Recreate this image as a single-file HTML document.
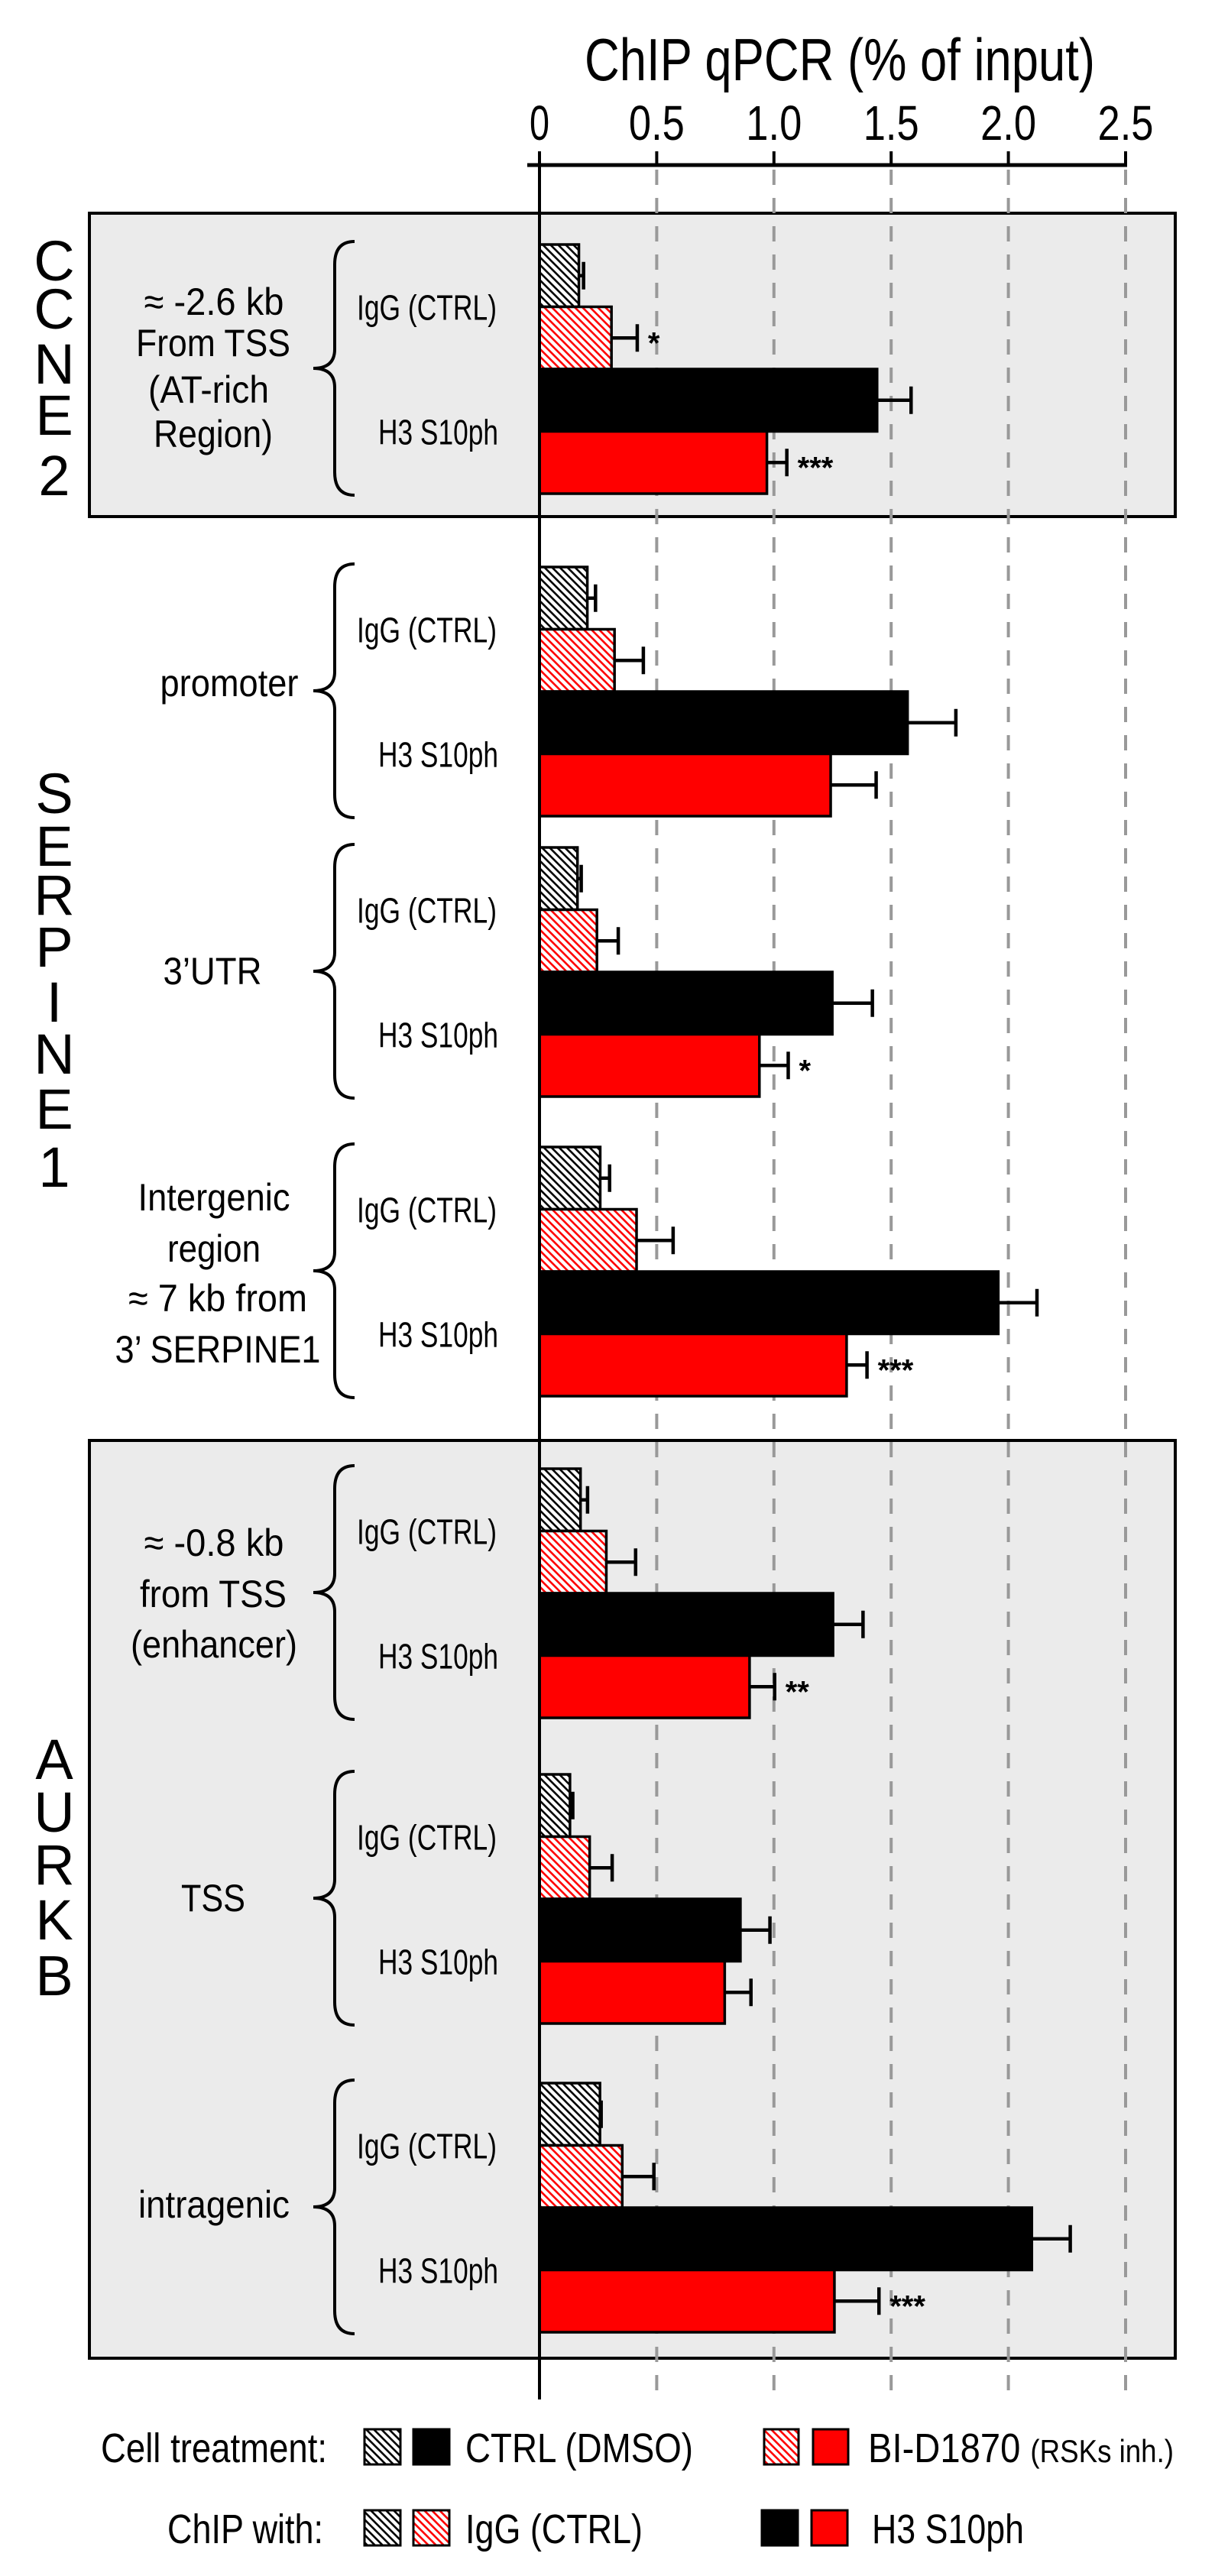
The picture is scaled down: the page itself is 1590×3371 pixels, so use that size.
<!DOCTYPE html>
<html><head><meta charset="utf-8">
<style>
html,body{margin:0;padding:0;background:#fff;}
svg{display:block;}
text{font-family:"Liberation Sans",sans-serif;fill:#000;}
</style></head>
<body>
<svg id="chart" width="1590" height="3371" viewBox="0 0 1590 3371" xmlns="http://www.w3.org/2000/svg">
<defs>
<pattern id="hatchK" patternUnits="userSpaceOnUse" width="10" height="10">
<rect width="10" height="10" fill="#fff"/>
<path d="M-5,5 L5,15 M0,0 L10,10 M5,-5 L15,5" stroke="#000" stroke-width="2.6"/>
</pattern>
<pattern id="hatchR" patternUnits="userSpaceOnUse" width="10" height="10">
<rect width="10" height="10" fill="#fff"/>
<path d="M-5,5 L5,15 M0,0 L10,10 M5,-5 L15,5" stroke="#f00" stroke-width="2.6"/>
</pattern>
</defs>
<rect x="117" y="279" width="1421" height="397" fill="#ebebeb" stroke="#000" stroke-width="4"/>
<rect x="117" y="1885" width="1421" height="1201" fill="#ebebeb" stroke="#000" stroke-width="4"/>
<g id="grid"></g>
<g id="axis"></g>
<text x="1099" y="105" font-size="78" text-anchor="middle" textLength="668" lengthAdjust="spacingAndGlyphs">ChIP qPCR (% of input)</text>
<g id="bars"></g>
<g id="labels"></g>
<g font-size="74" text-anchor="middle">
<text x="71"><tspan x="71" y="367">C</tspan><tspan x="71" y="430">C</tspan><tspan x="71" y="502">N</tspan><tspan x="71" y="569">E</tspan><tspan x="71" y="648">2</tspan></text>
<text><tspan x="71" y="1064">S</tspan><tspan x="71" y="1133">E</tspan><tspan x="71" y="1197">R</tspan><tspan x="71" y="1265">P</tspan><tspan x="71" y="1337">I</tspan><tspan x="71" y="1405">N</tspan><tspan x="71" y="1477">E</tspan><tspan x="71" y="1553">1</tspan></text>
<text><tspan x="71" y="2328">A</tspan><tspan x="71" y="2397">U</tspan><tspan x="71" y="2466">R</tspan><tspan x="71" y="2538">K</tspan><tspan x="71" y="2611">B</tspan></text>
</g>
<g font-size="50" text-anchor="middle">
<text x="280" y="412" textLength="183" lengthAdjust="spacingAndGlyphs">≈ -2.6 kb</text>
<text x="279" y="466" textLength="202" lengthAdjust="spacingAndGlyphs">From TSS</text>
<text x="273" y="527" textLength="158" lengthAdjust="spacingAndGlyphs">(AT-rich</text>
<text x="279" y="585" textLength="156" lengthAdjust="spacingAndGlyphs">Region)</text>
<text x="300" y="911" textLength="181" lengthAdjust="spacingAndGlyphs">promoter</text>
<text x="278" y="1288" textLength="129" lengthAdjust="spacingAndGlyphs">3’UTR</text>
<text x="280" y="1584" textLength="199" lengthAdjust="spacingAndGlyphs">Intergenic</text>
<text x="280" y="1651" textLength="122" lengthAdjust="spacingAndGlyphs">region</text>
<text x="285" y="1716" textLength="234" lengthAdjust="spacingAndGlyphs">≈ 7 kb from</text>
<text x="285" y="1783" textLength="269" lengthAdjust="spacingAndGlyphs">3’ SERPINE1</text>
<text x="280" y="2036" textLength="183" lengthAdjust="spacingAndGlyphs">≈ -0.8 kb</text>
<text x="279" y="2103" textLength="192" lengthAdjust="spacingAndGlyphs">from TSS</text>
<text x="280" y="2169" textLength="218" lengthAdjust="spacingAndGlyphs">(enhancer)</text>
<text x="279" y="2501" textLength="84" lengthAdjust="spacingAndGlyphs">TSS</text>
<text x="280" y="2902" textLength="198" lengthAdjust="spacingAndGlyphs">intragenic</text>
</g>
<g font-size="54">
<text x="428" y="3222" text-anchor="end" textLength="296" lengthAdjust="spacingAndGlyphs">Cell treatment:</text>
<rect x="477" y="3179" width="47" height="46" fill="url(#hatchK)" stroke="#000" stroke-width="3"/>
<rect x="541" y="3179" width="47" height="46" fill="#000" stroke="#000" stroke-width="3"/>
<text x="609" y="3222" textLength="298" lengthAdjust="spacingAndGlyphs">CTRL (DMSO)</text>
<rect x="1000" y="3179" width="45" height="46" fill="url(#hatchR)" stroke="#000" stroke-width="3"/>
<rect x="1064" y="3179" width="46" height="46" fill="#f00" stroke="#000" stroke-width="3"/>
<text x="1136" y="3222" textLength="400" lengthAdjust="spacingAndGlyphs">BI-D1870 <tspan font-size="42">(RSKs inh.)</tspan></text>
<text x="423" y="3328" text-anchor="end" textLength="204" lengthAdjust="spacingAndGlyphs">ChIP with:</text>
<rect x="477" y="3285" width="47" height="46" fill="url(#hatchK)" stroke="#000" stroke-width="3"/>
<rect x="541" y="3285" width="47" height="46" fill="url(#hatchR)" stroke="#000" stroke-width="3"/>
<text x="609" y="3328" textLength="232" lengthAdjust="spacingAndGlyphs">IgG (CTRL)</text>
<rect x="997" y="3285" width="47" height="46" fill="#000" stroke="#000" stroke-width="3"/>
<rect x="1062" y="3285" width="47" height="46" fill="#f00" stroke="#000" stroke-width="3"/>
<text x="1141" y="3328" textLength="199" lengthAdjust="spacingAndGlyphs">H3 S10ph</text>
</g>
</svg>
<script>
const regions = ["CCNE2 -2.6kb", "SERPINE1 promoter", "SERPINE1 3'UTR", "SERPINE1 intergenic", "AURKB enhancer", "AURKB TSS", "AURKB intragenic"];
const iggCtrl = [0.168, 0.204, 0.162, 0.259, 0.175, 0.13, 0.258];
const iggCtrlErr = [0.02, 0.035, 0.016, 0.04, 0.03, 0.012, 0.005];
const iggInh = [0.307, 0.32, 0.245, 0.414, 0.285, 0.214, 0.353];
const iggInhErr = [0.11, 0.123, 0.091, 0.156, 0.125, 0.096, 0.135];
const h3Ctrl = [1.44, 1.57, 1.249, 1.957, 1.252, 0.857, 2.1];
const h3CtrlErr = [0.145, 0.206, 0.171, 0.165, 0.128, 0.126, 0.164];
const h3Inh = [0.97, 1.242, 0.938, 1.31, 0.896, 0.79, 1.258];
const h3InhErr = [0.085, 0.194, 0.123, 0.087, 0.107, 0.112, 0.19];
const iggInhStars = ["*", "", "", "", "", "", ""];
const h3InhStars = ["***", "", "*", "***", "**", "", "***"];
const ticks = [0, 0.5, 1.0, 1.5, 2.0, 2.5];
const tickLabels = ["0", "0.5", "1.0", "1.5", "2.0", "2.5"];

const NS = "http://www.w3.org/2000/svg";
const X0 = 706, UNIT = 306.8;
const xs = v => X0 + v * UNIT;
const groupTops = [320, 742, 1109, 1501, 1922, 2322, 2726];
const BH = 81.5;
function mk(tag, attrs, parent) {
  const e = document.createElementNS(NS, tag);
  for (const k in attrs) e.setAttribute(k, attrs[k]);
  parent.appendChild(e);
  return e;
}
const grid = document.getElementById('grid');
const axis = document.getElementById('axis');
ticks.forEach((t, i) => {
  if (t > 0) {
    const gl = mk('line', {x1: xs(t), x2: xs(t), y1: 222, y2: 3140, stroke: '#999', 'stroke-width': 4, 'stroke-dasharray': '20 17'}, grid);
    
    
  }
  const tk = mk('line', {x1: xs(t), x2: xs(t), y1: 198, y2: 218, stroke: '#000', 'stroke-width': 4}, axis);
  
  
  const tl = mk('text', {x: xs(t), y: 183, 'font-size': 64, 'text-anchor': 'middle'}, axis);
  
  
  if (tickLabels[i].length > 1) { tl.setAttribute('textLength', 73); tl.setAttribute('lengthAdjust', 'spacingAndGlyphs'); }
  else { tl.setAttribute('textLength', 26); tl.setAttribute('lengthAdjust', 'spacingAndGlyphs'); }
  tl.textContent = tickLabels[i];
});
const axl = mk('line', {x1: 690, x2: xs(2.5) + 2, y1: 216, y2: 216, stroke: '#000', 'stroke-width': 5}, axis);



const bars = document.getElementById('bars');
const labels = document.getElementById('labels');
const series = [
  {v: iggCtrl, e: iggCtrlErr, fill: 'url(#hatchK)', name: 'bar-igg-ctrl', stars: null},
  {v: iggInh, e: iggInhErr, fill: 'url(#hatchR)', name: 'bar-igg-inhibitor', stars: iggInhStars},
  {v: h3Ctrl, e: h3CtrlErr, fill: '#000', name: 'bar-h3s10ph-ctrl', stars: null},
  {v: h3Inh, e: h3InhErr, fill: '#f00', name: 'bar-h3s10ph-inhibitor', stars: h3InhStars}
];
regions.forEach((r, gi) => {
  const top = groupTops[gi];
  series.forEach((s, si) => {
    const y = top + si * BH;
    const val = s.v[gi], err = s.e[gi];
    const b = mk('rect', {x: X0, y: y, width: xs(val) - X0, height: BH, fill: s.fill, stroke: '#000', 'stroke-width': 3.5}, bars);
    
    
    const cy = y + BH / 2;
    const eb = mk('path', {d: `M${xs(val)},${cy} H${xs(val + err)} M${xs(val + err)},${cy - 18} V${cy + 18}`, stroke: '#000', 'stroke-width': 4.5, fill: 'none'}, bars);
    
    
    if (s.stars && s.stars[gi]) {
      const st = mk('text', {x: xs(val + err) + 14, y: cy + 20, 'font-size': 40, 'font-weight': 'bold'}, bars);
      
      
      st.textContent = s.stars[gi];
    }
  });
  const l1 = mk('text', {x: 650, y: top + BH + 17, 'font-size': 46, 'text-anchor': 'end', textLength: 183, lengthAdjust: 'spacingAndGlyphs'}, labels);
  
  
  l1.textContent = 'IgG (CTRL)';
  const l2 = mk('text', {x: 652, y: top + 3 * BH + 17, 'font-size': 46, 'text-anchor': 'end', textLength: 157, lengthAdjust: 'spacingAndGlyphs'}, labels);
  
  
  l2.textContent = 'H3 S10ph';
  const t = top - 4, bt = top + 4 * BH + 2, m = (t + bt) / 2;
  const br = mk('path', {d: `M464,${t} Q438,${t} 438,${t + 30} L438,${m - 25} Q438,${m} 410,${m} Q438,${m} 438,${m + 25} L438,${bt - 30} Q438,${bt} 464,${bt}`, stroke: '#000', 'stroke-width': 4, fill: 'none'}, labels);
  
  
});
const zl = mk('line', {x1: X0, x2: X0, y1: 198, y2: 3140, stroke: '#000', 'stroke-width': 4}, axis);


document.getElementById('chart').appendChild(axis);
</script>
</body></html>
